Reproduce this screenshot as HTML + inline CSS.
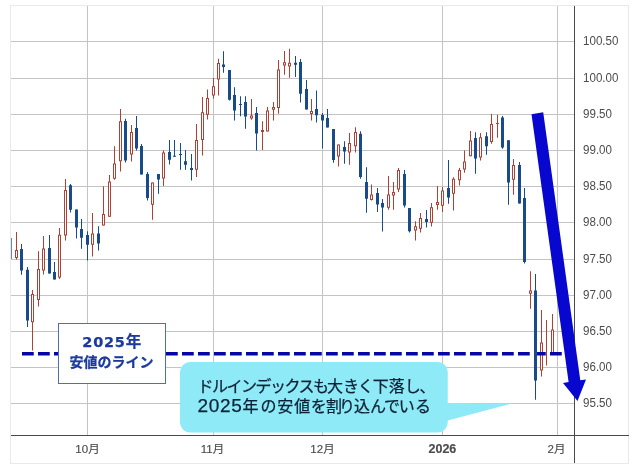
<!DOCTYPE html>
<html lang="ja"><head><meta charset="utf-8"><title>ドルインデックス</title>
<style>
html,body{margin:0;padding:0;background:#fff;}
body{width:640px;height:468px;position:relative;overflow:hidden;font-family:"Liberation Sans","Noto Sans CJK JP",sans-serif;}
.yl{position:absolute;left:583.3px;height:14px;line-height:14px;font-size:12px;transform:scaleX(0.965);transform-origin:0 50%;margin-top:-0.5px;color:#4c4c4c;white-space:nowrap;}
.xl{position:absolute;-webkit-text-stroke:0.15px #4c4c4c;top:442px;width:60px;text-align:center;height:14px;line-height:14px;font-size:11.5px;color:#4c4c4c;white-space:nowrap;}
.xl.b{font-weight:bold;font-size:12.5px;}
.lb{position:absolute;color:#1b3a9e;font-weight:bold;white-space:nowrap;height:20px;line-height:20px;-webkit-text-stroke:0.25px #1b3a9e;}
.lb1{left:82.3px;top:332px;font-size:15.5px;font-family:"DejaVu Sans","Noto Sans CJK JP",sans-serif;}
.lb1 .d{font-size:14.5px;letter-spacing:0.75px;}
.lb2{left:69.6px;top:352.3px;font-size:14px;font-family:"Liberation Sans","Noto Sans CJK JP",sans-serif;}
.co{position:absolute;color:#0d2236;-webkit-text-stroke:0.25px #0d2236;font-size:16px;height:20px;line-height:20px;white-space:nowrap;font-family:"Liberation Sans","Noto Sans CJK JP",sans-serif;}
.co1{left:197.5px;top:376.5px;}
.co2{left:197.5px;top:396px;}
.co .k{letter-spacing:-1.5px;}
.co .h{letter-spacing:-1.2px;}
.co .d{font-size:19px;letter-spacing:0.65px;}
</style></head><body>
<svg width="640" height="468" viewBox="0 0 640 468" style="position:absolute;left:0;top:0">
<rect x="0" y="0" width="640" height="468" fill="#fff"/>
<rect x="10.5" y="5.5" width="618" height="458" fill="none" stroke="#e9e9e9" stroke-width="1"/>
<rect x="11" y="41" width="564" height="1" fill="#c4c4c4"/>
<rect x="11" y="78" width="564" height="1" fill="#c4c4c4"/>
<rect x="11" y="114" width="564" height="1" fill="#c4c4c4"/>
<rect x="11" y="150" width="564" height="1" fill="#c4c4c4"/>
<rect x="11" y="186" width="564" height="1" fill="#c4c4c4"/>
<rect x="11" y="222" width="564" height="1" fill="#c4c4c4"/>
<rect x="11" y="259" width="564" height="1" fill="#c4c4c4"/>
<rect x="11" y="295" width="564" height="1" fill="#c4c4c4"/>
<rect x="11" y="331" width="564" height="1" fill="#c4c4c4"/>
<rect x="11" y="367" width="564" height="1" fill="#c4c4c4"/>
<rect x="11" y="403" width="564" height="1" fill="#c4c4c4"/>
<rect x="87" y="6" width="1" height="429" fill="#c4c4c4"/>
<rect x="213" y="6" width="1" height="429" fill="#c4c4c4"/>
<rect x="322" y="6" width="1" height="429" fill="#c4c4c4"/>
<rect x="442" y="6" width="1" height="429" fill="#c4c4c4"/>
<rect x="557" y="6" width="1" height="429" fill="#c4c4c4"/>
<rect x="11" y="238" width="1" height="21" fill="#6f86a8"/>
<rect x="16" y="232" width="1" height="27.5" fill="#ab4238"/>
<rect x="15" y="250" width="3" height="8" fill="#ab4238"/>
<rect x="16" y="251" width="1" height="6" fill="#fff"/>
<rect x="21" y="244" width="1" height="30.75" fill="#194a89"/>
<rect x="20" y="249" width="3" height="21.5" fill="#194a89"/>
<rect x="27" y="267" width="1" height="60" fill="#194a89"/>
<rect x="26" y="269.75" width="3" height="50.75" fill="#194a89"/>
<rect x="32" y="290" width="1" height="60.5" fill="#ab4238"/>
<rect x="31" y="294" width="3" height="28.25" fill="#ab4238"/>
<rect x="32" y="295" width="1" height="26.25" fill="#fff"/>
<rect x="38" y="251.25" width="1" height="55.25" fill="#ab4238"/>
<rect x="37" y="269" width="3" height="31" fill="#ab4238"/>
<rect x="38" y="270" width="1" height="29" fill="#fff"/>
<rect x="43" y="236" width="1" height="38.5" fill="#ab4238"/>
<rect x="42" y="248.5" width="3" height="22" fill="#ab4238"/>
<rect x="43" y="249.5" width="1" height="20" fill="#fff"/>
<rect x="49" y="235" width="1" height="38.5" fill="#194a89"/>
<rect x="48" y="248" width="3" height="25.5" fill="#194a89"/>
<rect x="54" y="262" width="1" height="17.5" fill="#194a89"/>
<rect x="53" y="272" width="3" height="7.5" fill="#194a89"/>
<rect x="59" y="228" width="1" height="51" fill="#ab4238"/>
<rect x="58" y="234.75" width="3" height="42.75" fill="#ab4238"/>
<rect x="59" y="235.75" width="1" height="40.75" fill="#fff"/>
<rect x="65" y="179" width="1" height="61.5" fill="#ab4238"/>
<rect x="64" y="190" width="3" height="45.5" fill="#ab4238"/>
<rect x="65" y="191" width="1" height="43.5" fill="#fff"/>
<rect x="70" y="184" width="1" height="28.5" fill="#194a89"/>
<rect x="69" y="185.25" width="3" height="24.5" fill="#194a89"/>
<rect x="76" y="209.5" width="1" height="29" fill="#194a89"/>
<rect x="75" y="209.5" width="3" height="18" fill="#194a89"/>
<rect x="81" y="219" width="1" height="29.75" fill="#194a89"/>
<rect x="80" y="229" width="3" height="8.75" fill="#194a89"/>
<rect x="87" y="231.25" width="1" height="29.25" fill="#194a89"/>
<rect x="86" y="235" width="3" height="9.75" fill="#194a89"/>
<rect x="92" y="213" width="1" height="43.5" fill="#ab4238"/>
<rect x="91" y="233.5" width="3" height="11.25" fill="#ab4238"/>
<rect x="92" y="234.5" width="1" height="9.25" fill="#fff"/>
<rect x="98" y="226.25" width="1" height="24.25" fill="#194a89"/>
<rect x="97" y="233.5" width="3" height="10" fill="#194a89"/>
<rect x="103" y="186.25" width="1" height="39.25" fill="#ab4238"/>
<rect x="102" y="214" width="3" height="11.5" fill="#ab4238"/>
<rect x="103" y="215" width="1" height="9.5" fill="#fff"/>
<rect x="109" y="175" width="1" height="41.75" fill="#ab4238"/>
<rect x="108" y="181.5" width="3" height="35.25" fill="#ab4238"/>
<rect x="109" y="182.5" width="1" height="33.25" fill="#fff"/>
<rect x="114" y="146.25" width="1" height="33.5" fill="#ab4238"/>
<rect x="113" y="163.5" width="3" height="15.25" fill="#ab4238"/>
<rect x="114" y="164.5" width="1" height="13.25" fill="#fff"/>
<rect x="120" y="109" width="1" height="62.5" fill="#ab4238"/>
<rect x="119" y="121.25" width="3" height="40" fill="#ab4238"/>
<rect x="120" y="122.25" width="1" height="38" fill="#fff"/>
<rect x="125" y="118.75" width="1" height="43.75" fill="#194a89"/>
<rect x="124" y="121" width="3" height="39.5" fill="#194a89"/>
<rect x="131" y="125" width="1" height="36.5" fill="#ab4238"/>
<rect x="130" y="132" width="3" height="22.5" fill="#ab4238"/>
<rect x="131" y="133" width="1" height="20.5" fill="#fff"/>
<rect x="136" y="116" width="1" height="34.5" fill="#194a89"/>
<rect x="135" y="128" width="3" height="20.5" fill="#194a89"/>
<rect x="141" y="144" width="1" height="30.5" fill="#194a89"/>
<rect x="140" y="146" width="3" height="28.5" fill="#194a89"/>
<rect x="147" y="172" width="1" height="28.5" fill="#194a89"/>
<rect x="146" y="174" width="3" height="24" fill="#194a89"/>
<rect x="152" y="182.5" width="1" height="37.25" fill="#ab4238"/>
<rect x="151" y="182.5" width="3" height="22.25" fill="#ab4238"/>
<rect x="152" y="183.5" width="1" height="20.25" fill="#fff"/>
<rect x="158" y="174" width="1" height="19.75" fill="#194a89"/>
<rect x="157" y="174" width="3" height="5.5" fill="#194a89"/>
<rect x="163" y="150.5" width="1" height="35.5" fill="#ab4238"/>
<rect x="162" y="152.5" width="3" height="26" fill="#ab4238"/>
<rect x="163" y="153.5" width="1" height="24" fill="#fff"/>
<rect x="169" y="140" width="1" height="24.5" fill="#194a89"/>
<rect x="168" y="152" width="3" height="7.75" fill="#194a89"/>
<rect x="174" y="140" width="1" height="16.75" fill="#194a89"/>
<rect x="173" y="155.75" width="3" height="1" fill="#194a89"/>
<rect x="180" y="143" width="1" height="26.75" fill="#194a89"/>
<rect x="179" y="154" width="3" height="1" fill="#194a89"/>
<rect x="185" y="150" width="1" height="19.75" fill="#194a89"/>
<rect x="184" y="161.25" width="3" height="3.5" fill="#194a89"/>
<rect x="191" y="154" width="1" height="26.5" fill="#194a89"/>
<rect x="190" y="168" width="3" height="2" fill="#194a89"/>
<rect x="196" y="124" width="1" height="53" fill="#ab4238"/>
<rect x="195" y="140" width="3" height="29.75" fill="#ab4238"/>
<rect x="196" y="141" width="1" height="27.75" fill="#fff"/>
<rect x="202" y="97" width="1" height="58.5" fill="#ab4238"/>
<rect x="201" y="112.25" width="3" height="27.75" fill="#ab4238"/>
<rect x="202" y="113.25" width="1" height="25.75" fill="#fff"/>
<rect x="207" y="89.5" width="1" height="30" fill="#ab4238"/>
<rect x="206" y="98" width="3" height="16.75" fill="#ab4238"/>
<rect x="207" y="99" width="1" height="14.75" fill="#fff"/>
<rect x="213" y="78" width="1" height="20.5" fill="#ab4238"/>
<rect x="212" y="86.25" width="3" height="9.25" fill="#ab4238"/>
<rect x="213" y="87.25" width="1" height="7.25" fill="#fff"/>
<rect x="218" y="58.75" width="1" height="36.75" fill="#ab4238"/>
<rect x="217" y="63" width="3" height="16.5" fill="#ab4238"/>
<rect x="218" y="64" width="1" height="14.5" fill="#fff"/>
<rect x="223" y="51.25" width="1" height="21.5" fill="#194a89"/>
<rect x="222" y="64.5" width="3" height="2.5" fill="#194a89"/>
<rect x="229" y="70" width="1" height="30.5" fill="#194a89"/>
<rect x="228" y="70" width="3" height="29.75" fill="#194a89"/>
<rect x="234" y="87.25" width="1" height="33.25" fill="#194a89"/>
<rect x="233" y="95" width="3" height="15.5" fill="#194a89"/>
<rect x="240" y="96.25" width="1" height="20" fill="#194a89"/>
<rect x="239" y="104" width="3" height="1" fill="#194a89"/>
<rect x="245" y="96.25" width="1" height="32.5" fill="#194a89"/>
<rect x="244" y="102" width="3" height="14.5" fill="#194a89"/>
<rect x="251" y="99" width="1" height="20.75" fill="#ab4238"/>
<rect x="250" y="115.5" width="3" height="3" fill="#ab4238"/>
<rect x="251" y="116.5" width="1" height="1" fill="#fff"/>
<rect x="256" y="107" width="1" height="43.5" fill="#194a89"/>
<rect x="255" y="113" width="3" height="20.5" fill="#194a89"/>
<rect x="262" y="121.25" width="1" height="28.75" fill="#ab4238"/>
<rect x="261" y="130" width="3" height="2" fill="#ab4238"/>
<rect x="267" y="107" width="1" height="24.5" fill="#ab4238"/>
<rect x="266" y="110.5" width="3" height="21" fill="#ab4238"/>
<rect x="267" y="111.5" width="1" height="19" fill="#fff"/>
<rect x="273" y="102" width="1" height="18.5" fill="#ab4238"/>
<rect x="272" y="107" width="3" height="2.75" fill="#ab4238"/>
<rect x="273" y="108" width="1" height="0.75" fill="#fff"/>
<rect x="278" y="60" width="1" height="53.75" fill="#ab4238"/>
<rect x="277" y="69.5" width="3" height="38.5" fill="#ab4238"/>
<rect x="278" y="70.5" width="1" height="36.5" fill="#fff"/>
<rect x="284" y="51" width="1" height="23.75" fill="#ab4238"/>
<rect x="283" y="62.25" width="3" height="3.25" fill="#ab4238"/>
<rect x="284" y="63.25" width="1" height="1.25" fill="#fff"/>
<rect x="289" y="48.75" width="1" height="29" fill="#ab4238"/>
<rect x="288" y="62.75" width="3" height="3.75" fill="#ab4238"/>
<rect x="289" y="63.75" width="1" height="1.75" fill="#fff"/>
<rect x="295" y="56" width="1" height="21" fill="#194a89"/>
<rect x="294" y="62.75" width="3" height="2" fill="#194a89"/>
<rect x="300" y="59" width="1" height="43.5" fill="#194a89"/>
<rect x="299" y="62" width="3" height="31.75" fill="#194a89"/>
<rect x="306" y="80" width="1" height="29.5" fill="#194a89"/>
<rect x="305" y="89" width="3" height="20.5" fill="#194a89"/>
<rect x="311" y="99" width="1" height="21.5" fill="#ab4238"/>
<rect x="310" y="111" width="3" height="3" fill="#ab4238"/>
<rect x="311" y="112" width="1" height="1" fill="#fff"/>
<rect x="316" y="90.5" width="1" height="32" fill="#194a89"/>
<rect x="315" y="109" width="3" height="6.25" fill="#194a89"/>
<rect x="322" y="113" width="1" height="35.5" fill="#194a89"/>
<rect x="321" y="115" width="3" height="5.5" fill="#194a89"/>
<rect x="327" y="109" width="1" height="18.5" fill="#194a89"/>
<rect x="326" y="118" width="3" height="9.5" fill="#194a89"/>
<rect x="333" y="129" width="1" height="33.75" fill="#194a89"/>
<rect x="332" y="129" width="3" height="31" fill="#194a89"/>
<rect x="338" y="144.5" width="1" height="22" fill="#ab4238"/>
<rect x="337" y="144.5" width="3" height="12" fill="#ab4238"/>
<rect x="338" y="145.5" width="1" height="10" fill="#fff"/>
<rect x="344" y="141.25" width="1" height="22.5" fill="#194a89"/>
<rect x="343" y="147" width="3" height="4.5" fill="#194a89"/>
<rect x="349" y="133" width="1" height="31.75" fill="#ab4238"/>
<rect x="348" y="143" width="3" height="9.5" fill="#ab4238"/>
<rect x="349" y="144" width="1" height="7.5" fill="#fff"/>
<rect x="355" y="127.25" width="1" height="25.25" fill="#ab4238"/>
<rect x="354" y="132" width="3" height="14.25" fill="#ab4238"/>
<rect x="355" y="133" width="1" height="12.25" fill="#fff"/>
<rect x="360" y="131.25" width="1" height="47.5" fill="#194a89"/>
<rect x="359" y="133.75" width="3" height="43.25" fill="#194a89"/>
<rect x="366" y="167.25" width="1" height="45.5" fill="#194a89"/>
<rect x="365" y="182" width="3" height="16.75" fill="#194a89"/>
<rect x="371" y="184.5" width="1" height="16" fill="#ab4238"/>
<rect x="370" y="194.5" width="3" height="5.5" fill="#ab4238"/>
<rect x="371" y="195.5" width="1" height="3.5" fill="#fff"/>
<rect x="377" y="188" width="1" height="24" fill="#194a89"/>
<rect x="376" y="193" width="3" height="11.5" fill="#194a89"/>
<rect x="382" y="199" width="1" height="32.5" fill="#194a89"/>
<rect x="381" y="203" width="3" height="4.5" fill="#194a89"/>
<rect x="388" y="176" width="1" height="33.75" fill="#ab4238"/>
<rect x="387" y="194.5" width="3" height="13.25" fill="#ab4238"/>
<rect x="388" y="195.5" width="1" height="11.25" fill="#fff"/>
<rect x="393" y="182" width="1" height="27.75" fill="#ab4238"/>
<rect x="392" y="192" width="3" height="3.5" fill="#ab4238"/>
<rect x="393" y="193" width="1" height="1.5" fill="#fff"/>
<rect x="398" y="168" width="1" height="24" fill="#ab4238"/>
<rect x="397" y="170" width="3" height="19.5" fill="#ab4238"/>
<rect x="398" y="171" width="1" height="17.5" fill="#fff"/>
<rect x="404" y="170" width="1" height="37.5" fill="#194a89"/>
<rect x="403" y="174" width="3" height="31.5" fill="#194a89"/>
<rect x="409" y="208" width="1" height="24.5" fill="#194a89"/>
<rect x="408" y="208" width="3" height="23.25" fill="#194a89"/>
<rect x="415" y="221.25" width="1" height="19.25" fill="#ab4238"/>
<rect x="414" y="226.25" width="3" height="4.25" fill="#ab4238"/>
<rect x="415" y="227.25" width="1" height="2.25" fill="#fff"/>
<rect x="420" y="213" width="1" height="19.5" fill="#ab4238"/>
<rect x="419" y="218" width="3" height="10.75" fill="#ab4238"/>
<rect x="420" y="219" width="1" height="8.75" fill="#fff"/>
<rect x="426" y="210" width="1" height="17.5" fill="#194a89"/>
<rect x="425" y="219" width="3" height="3" fill="#194a89"/>
<rect x="431" y="203" width="1" height="23.5" fill="#ab4238"/>
<rect x="430" y="207.25" width="3" height="15.5" fill="#ab4238"/>
<rect x="431" y="208.25" width="1" height="13.5" fill="#fff"/>
<rect x="437" y="186" width="1" height="23.75" fill="#ab4238"/>
<rect x="436" y="202" width="3" height="3" fill="#ab4238"/>
<rect x="437" y="203" width="1" height="1" fill="#fff"/>
<rect x="442" y="187" width="1" height="25" fill="#ab4238"/>
<rect x="441" y="190.5" width="3" height="15.25" fill="#ab4238"/>
<rect x="442" y="191.5" width="1" height="13.25" fill="#fff"/>
<rect x="448" y="160" width="1" height="43.75" fill="#194a89"/>
<rect x="447" y="188" width="3" height="9.5" fill="#194a89"/>
<rect x="453" y="177.25" width="1" height="33.25" fill="#ab4238"/>
<rect x="452" y="178.75" width="3" height="15" fill="#ab4238"/>
<rect x="453" y="179.75" width="1" height="13" fill="#fff"/>
<rect x="459" y="168" width="1" height="17.5" fill="#ab4238"/>
<rect x="458" y="170" width="3" height="10.25" fill="#ab4238"/>
<rect x="459" y="171" width="1" height="8.25" fill="#fff"/>
<rect x="464" y="150.5" width="1" height="22.25" fill="#ab4238"/>
<rect x="463" y="161.5" width="3" height="8" fill="#ab4238"/>
<rect x="464" y="162.5" width="1" height="6" fill="#fff"/>
<rect x="470" y="131" width="1" height="25.25" fill="#ab4238"/>
<rect x="469" y="140.5" width="3" height="15.75" fill="#ab4238"/>
<rect x="470" y="141.5" width="1" height="13.75" fill="#fff"/>
<rect x="475" y="132.25" width="1" height="41.5" fill="#194a89"/>
<rect x="474" y="138" width="3" height="20.5" fill="#194a89"/>
<rect x="480" y="133" width="1" height="27.5" fill="#ab4238"/>
<rect x="479" y="137.25" width="3" height="20.25" fill="#ab4238"/>
<rect x="480" y="138.25" width="1" height="18.25" fill="#fff"/>
<rect x="486" y="132.25" width="1" height="22.5" fill="#194a89"/>
<rect x="485" y="136.25" width="3" height="10" fill="#194a89"/>
<rect x="491" y="114" width="1" height="29.75" fill="#ab4238"/>
<rect x="490" y="124" width="3" height="18" fill="#ab4238"/>
<rect x="491" y="125" width="1" height="16" fill="#fff"/>
<rect x="497" y="114.75" width="1" height="23" fill="#ab4238"/>
<rect x="496" y="123" width="3" height="1" fill="#ab4238"/>
<rect x="502" y="116" width="1" height="32.75" fill="#194a89"/>
<rect x="501" y="117.5" width="3" height="30" fill="#194a89"/>
<rect x="508" y="140.25" width="1" height="64.5" fill="#194a89"/>
<rect x="507" y="140.25" width="3" height="42.25" fill="#194a89"/>
<rect x="513" y="159" width="1" height="35.75" fill="#ab4238"/>
<rect x="512" y="165" width="3" height="14.75" fill="#ab4238"/>
<rect x="513" y="166" width="1" height="12.75" fill="#fff"/>
<rect x="519" y="162" width="1" height="41.5" fill="#194a89"/>
<rect x="518" y="165" width="3" height="38.5" fill="#194a89"/>
<rect x="524" y="188" width="1" height="75.5" fill="#194a89"/>
<rect x="523" y="198" width="3" height="64" fill="#194a89"/>
<rect x="530" y="271.25" width="1" height="37.5" fill="#ab4238"/>
<rect x="529" y="290.5" width="3" height="3.25" fill="#ab4238"/>
<rect x="530" y="291.5" width="1" height="1.25" fill="#fff"/>
<rect x="535" y="274" width="1" height="125.75" fill="#194a89"/>
<rect x="534" y="290.5" width="3" height="90" fill="#194a89"/>
<rect x="541" y="310" width="1" height="66.5" fill="#ab4238"/>
<rect x="540" y="342.5" width="3" height="28" fill="#ab4238"/>
<rect x="541" y="343.5" width="1" height="26" fill="#fff"/>
<rect x="546" y="320" width="1" height="45.5" fill="#ab4238"/>
<rect x="552" y="314" width="1" height="40" fill="#ab4238"/>
<rect x="551" y="329.5" width="3" height="24.5" fill="#ab4238"/>
<rect x="552" y="330.5" width="1" height="22.5" fill="#fff"/>
<rect x="11" y="435" width="618" height="1" fill="#4a4a4a"/>
<rect x="574" y="6" width="1" height="457" fill="#4a4a4a"/>
<line x1="22" y1="353.75" x2="562" y2="353.75" stroke="#0505a8" stroke-width="3.6" stroke-dasharray="11.75 4.25"/>
<rect x="534" y="350" width="3" height="8" fill="#194a89"/>
<polygon points="531.5,114.3 543.2,112.2 580.3,380.3 586,379.4 577.5,401 563,382.9 568.6,382.1" fill="#0707cf"/>
<path d="M190,362 H437.75 a10,10 0 0 1 10,10 V403 L512,403.5 L447.75,420.5 V422.5 a10,10 0 0 1 -10,10 H190 a10,10 0 0 1 -10,-10 V372 a10,10 0 0 1 10,-10 Z" fill="#8feaf8"/>
<rect x="58.5" y="323.5" width="107" height="60" fill="#fff" stroke="#4f6fb0" stroke-width="1"/>
</svg>
<div class="yl" style="top:34px">100.50</div><div class="yl" style="top:71px">100.00</div><div class="yl" style="top:107px">99.50</div><div class="yl" style="top:143px">99.00</div><div class="yl" style="top:179px">98.50</div><div class="yl" style="top:215px">98.00</div><div class="yl" style="top:252px">97.50</div><div class="yl" style="top:288px">97.00</div><div class="yl" style="top:324px">96.50</div><div class="yl" style="top:360px">96.00</div><div class="yl" style="top:396px">95.50</div>
<div class="xl" style="left:57.5px">10月</div><div class="xl" style="left:182.5px">11月</div><div class="xl" style="left:292.5px">12月</div><div class="xl b" style="left:412.4px">2026</div><div class="xl" style="left:526.5px">2月</div>
<div class="lb lb1"><span class="d">2025</span>年</div>
<div class="lb lb2">安値のライン</div>
<div class="co co1"><span class="k">ドルインデックス</span><span style="letter-spacing:-2px">も</span>大<span class="h">きく</span>下落<span class="h">し、</span></div>
<div class="co co2"><span class="d">2025</span><span style="letter-spacing:2px">年</span><span style="letter-spacing:0.8px">の</span><span style="letter-spacing:1px">安</span><span style="letter-spacing:0.5px">値</span><span style="letter-spacing:-0.7px">を</span><span style="letter-spacing:-3px">割</span><span class="h">り</span>込<span class="h">んで</span><span style="letter-spacing:0.3px">い</span>る</div>
</body></html>
